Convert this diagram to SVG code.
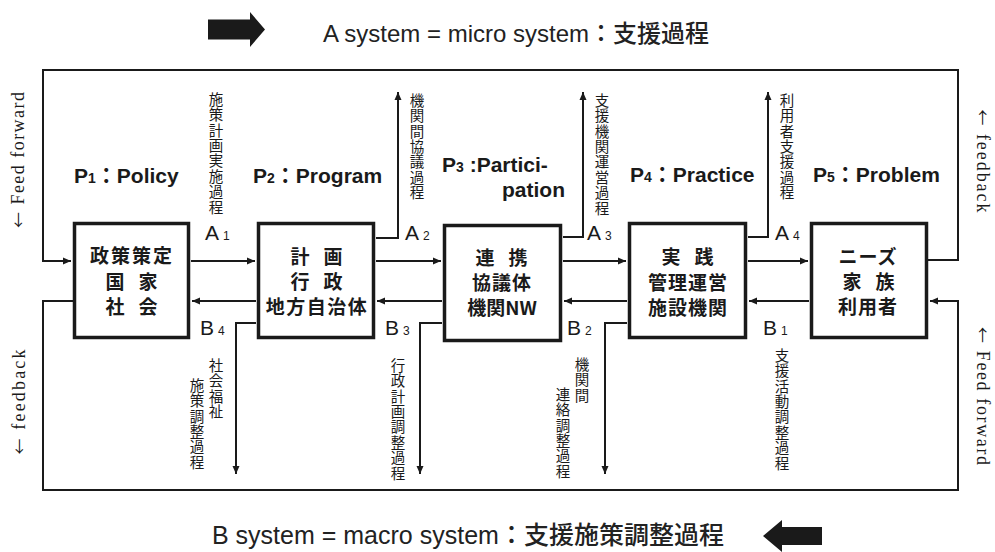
<svg xmlns="http://www.w3.org/2000/svg" width="995" height="552" viewBox="0 0 995 552">
<defs>
<marker id="ah" markerUnits="userSpaceOnUse" markerWidth="9" markerHeight="8" refX="8" refY="4" orient="auto">
<path d="M0,0.5 L8,4 L0,7.5 z" fill="#1a1a1a"/>
</marker>
<style>
.box{fill:#fff;stroke:#1a1a1a;stroke-width:3.5}
.ca{fill:none;stroke:#1a1a1a;stroke-width:2;marker-end:url(#ah)}
.nt{font-family:"Noto Sans CJK JP","Noto Sans CJK SC",sans-serif;font-weight:bold;font-size:19px;text-anchor:middle;fill:#1a1a1a}
.pl{font-family:"Liberation Sans","Noto Sans CJK JP",sans-serif;font-weight:bold;font-size:21px;fill:#1a1a1a}
.ps{font-size:14px}
.cj{font-family:"Noto Sans CJK JP",sans-serif}
.vt{font-family:"Noto Sans CJK JP","Noto Sans CJK SC",sans-serif;font-size:14.5px;writing-mode:vertical-rl;letter-spacing:0.9px;fill:#1a1a1a}
.ab{font-family:"Liberation Sans",sans-serif;font-size:21px;fill:#1a1a1a}
.sb{font-size:12px}
.side{font-family:"Liberation Serif",serif;font-size:18px;fill:#1a1a1a;text-anchor:middle}
.arr{font-family:"Noto Sans CJK JP",sans-serif;font-size:16px}
.tt{font-family:"Liberation Sans","Noto Sans CJK JP",sans-serif;fill:#222}
.tj{font-family:"Noto Sans CJK JP",sans-serif;font-weight:500}
</style>
</defs>
<rect width="995" height="552" fill="#fff"/>

<g id="title-top">
<polygon points="208,19.5 250,19.5 250,12 265,29.5 250,47 250,39.5 208,39.5" fill="#1a1a1a"/>
<text class="tt" x="323" y="42" font-size="24">A system = micro system<tspan class="tj">：支援過程</tspan></text>
</g>
<g id="title-bottom">
<polygon points="822,527 782,527 782,520 763,536 782,552 782,545 822,545" fill="#1a1a1a"/>
<text class="tt" x="212" y="544" font-size="25">B system = macro system<tspan class="tj">：支援施策調整過程</tspan></text>
</g>

<g id="connectors">
<path class="ca" d="M928,260 H958 V70 H43 V261 H71"/>
<path class="ca" d="M73,301 H43 V490 H958 V301 H930"/>
<path class="ca" d="M191,261 H255"/>
<path class="ca" d="M376,261 H441"/>
<path class="ca" d="M563,261 H626"/>
<path class="ca" d="M748,261 H808"/>
<path class="ca" d="M256,301 H192"/>
<path class="ca" d="M442,301 H377"/>
<path class="ca" d="M627,301 H564"/>
<path class="ca" d="M809,301 H749"/>
<path class="ca" d="M376,238 H398 V92"/>
<path class="ca" d="M563,237 H583 V92"/>
<path class="ca" d="M748,237 H768 V92"/>
<path class="ca" d="M256,323 H236 V474"/>
<path class="ca" d="M442,323 H420 V474"/>
<path class="ca" d="M627,323 H605 V474"/>
</g>

<g id="node1">
<rect class="box" x="74.5" y="223.5" width="114" height="114"/>
<text class="nt"><tspan x="132" y="263" letter-spacing="2">政策策定</tspan><tspan x="115 148" y="289">国家</tspan><tspan x="115 148" y="314">社会</tspan></text>
</g>
<g id="node2">
<rect class="box" x="258.5" y="223.5" width="115" height="114"/>
<text class="nt"><tspan x="300 333" y="264">計画</tspan><tspan x="300 333" y="289">行政</tspan><tspan x="317" y="314" letter-spacing="1.5">地方自治体</tspan></text>
</g>
<g id="node3">
<rect class="box" x="444.5" y="225.5" width="116" height="115"/>
<text class="nt"><tspan x="485 518" y="265">連携</tspan><tspan x="502" y="290" letter-spacing="1">協議体</tspan><tspan x="502" y="315">機関NW</tspan></text>
</g>
<g id="node4">
<rect class="box" x="629.5" y="223.5" width="116" height="114"/>
<text class="nt"><tspan x="671 704" y="264">実践</tspan><tspan x="688" y="290" letter-spacing="1">管理運営</tspan><tspan x="688" y="315" letter-spacing="1">施設機関</tspan></text>
</g>
<g id="node5">
<rect class="box" x="811.5" y="223.5" width="115" height="114"/>
<text class="nt"><tspan x="868" y="264" letter-spacing="1">ニーズ</tspan><tspan x="852 885" y="289">家族</tspan><tspan x="868" y="314" letter-spacing="1">利用者</tspan></text>
</g>

<g id="phase-labels">
<text class="pl" x="74" y="183">P<tspan class="ps">1</tspan><tspan class="cj">：</tspan>Policy</text>
<text class="pl" x="253" y="183">P<tspan class="ps">2</tspan><tspan class="cj">：</tspan>Program</text>
<text class="pl"><tspan x="442" y="172">P<tspan class="ps">3</tspan> :Partici-</tspan><tspan x="565" y="197" text-anchor="end">pation</tspan></text>
<text class="pl" x="630" y="182">P<tspan class="ps">4</tspan><tspan class="cj">：</tspan>Practice</text>
<text class="pl" x="813" y="182">P<tspan class="ps">5</tspan><tspan class="cj">：</tspan>Problem</text>
</g>

<g id="ab-labels">
<text class="ab" x="205" y="240">A<tspan class="sb" dx="4">1</tspan></text>
<text class="ab" x="405" y="240">A<tspan class="sb" dx="4">2</tspan></text>
<text class="ab" x="587" y="240">A<tspan class="sb" dx="4">3</tspan></text>
<text class="ab" x="775" y="240">A<tspan class="sb" dx="4">4</tspan></text>
<text class="ab" x="200" y="335">B<tspan class="sb" dx="4">4</tspan></text>
<text class="ab" x="385" y="335">B<tspan class="sb" dx="4">3</tspan></text>
<text class="ab" x="567" y="335">B<tspan class="sb" dx="4">2</tspan></text>
<text class="ab" x="763" y="335">B<tspan class="sb" dx="4">1</tspan></text>
</g>

<g id="process-labels">
<text class="vt" x="216" y="92">施策計画実施過程</text>
<text class="vt" x="417" y="93">機関間協議過程</text>
<text class="vt" x="602" y="93">支援機関運営過程</text>
<text class="vt" x="787" y="93">利用者支援過程</text>
<text class="vt" x="216" y="358">社会福祉</text>
<text class="vt" x="197" y="378">施策調整過程</text>
<text class="vt" x="398" y="358">行政計画調整過程</text>
<text class="vt" x="582" y="357">機関間</text>
<text class="vt" x="563" y="387">連絡調整過程</text>
<text class="vt" x="782" y="348">支援活動調整過程</text>
</g>

<g id="side-labels">
<text class="side" transform="translate(24,160) rotate(-90)" textLength="136" lengthAdjust="spacing"><tspan class="arr">←</tspan> Feed forward</text>
<text class="side" transform="translate(25,402) rotate(-90)" textLength="105" lengthAdjust="spacing"><tspan class="arr">←</tspan> feedback</text>
<text class="side" transform="translate(977,161) rotate(90)" textLength="103" lengthAdjust="spacing"><tspan class="arr">←</tspan> feedback</text>
<text class="side" transform="translate(977,396) rotate(90)" textLength="138" lengthAdjust="spacing"><tspan class="arr">←</tspan> Feed forward</text>
</g>
</svg>
